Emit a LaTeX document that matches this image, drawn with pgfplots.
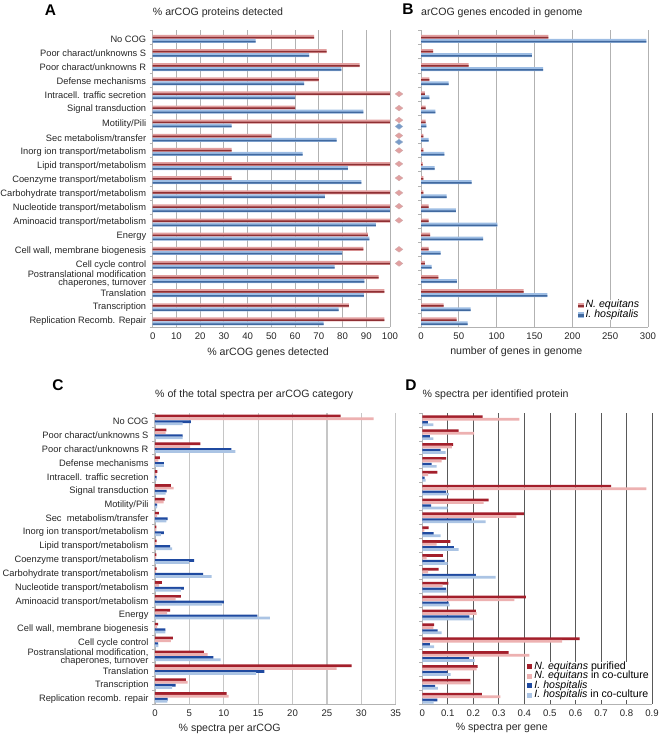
\documentclass[border=0pt]{standalone}
\usepackage{fontspec}
\setmainfont{Liberation Sans}
\usepackage{pgfplots}
\usepackage{pgfplotstable}
\pgfplotsset{compat=1.18}

\definecolor{redtop}{HTML}{E2A0A0}
\definecolor{redbot}{HTML}{8E2F33}
\definecolor{bluetop}{HTML}{9DBDE4}
\definecolor{bluebot}{HTML}{41699F}
\definecolor{darkred}{HTML}{A31F2B}
\definecolor{palered}{HTML}{EDB1B1}
\definecolor{darkblue}{HTML}{1F4AA0}
\definecolor{paleblue}{HTML}{ABC4E4}

% panels A and B: two species
\pgfplotstableread{
cat pctN pctI genN genI
0  68    43.4  168.5 298
1  73.3  65.9  16    146.5
2  87.2  79.5  63    161.5
3  70    63.8  11    36.5
4  100   60    5     11
5  60    88.8  6     19
6  100   33.3  6     7
7  50    77.5  3     10
8  33.3  63.2  3     31
9  100   82.2  2     18
10 33.3  87.9  3     67
11 100   72.6  3     34
12 100   100   10    46
13 100   94    10    101
14 90.7  91.3  12    82
15 88.8  79.8  10    26
16 100   76.7  5     14
17 95.2  89.2  23    47.5
18 97.6  89    135.5 167
19 82.7  78.4  30    65.5
20 97.6  72    47    61.5
}\tabAB

% panel C: % of total spectra
\pgfplotstableread{
cat Npur Nco Ipur Ico
0  27    31.8  5.2  4
1  1.65  1.55  4    4
2  6.6   5.1   11.1 11.7
3  0.7   0.5   1.3  1.3
4  0.35  0.2   0.25 0.25
5  2.3   2.7   1.7  1.55
6  1.4   1.25  0.3  0.3
7  0.55  0.3   1.85 1.65
8  0.2   0.2   1.3  0.85
9  0.25  0.2   2.2  2.5
10 0.2   0.15  5.7  4.95
11 0.25  0.15  7    8.25
12 1     0.6   4.2  3.75
13 3.75  3     10   9.75
14 2.2   1.75  14.9 16.7
15 0.45  0.3   1.5  1.5
16 2.6   2.3   0.45 0.5
17 7.1   7.65  8.5  9.55
18 28.6  26.4  15.9 14.7
19 4.5   4.75  3    2.5
20 10.4  10.7  1.85 1.8
}\tabC

% panel D: % spectra per gene
\pgfplotstableread{
cat Npur Nco Ipur Ico
0  0.236 0.38  0.022 0.043
1  0.142 0.203 0.03  0.043
2  0.121 0.116 0.072 0.091
3  0.093 0.076 0.037 0.056
4  0.059 0.023 0.009 0.013
5  0.74  0.878 0.093 0.104
6  0.26  0.24  0.035 0.099
7  0.398 0.369 0.193 0.248
8  0.025 0.008 0.044 0.072
9  0.11  0.056 0.124 0.142
10 0.081 0.017 0.087 0.099
11 0.064 0.023 0.21  0.287
12 0.102 0.08  0.093 0.095
13 0.406 0.361 0.103 0.107
14 0.21  0.213 0.184 0.2
15 0.046 0.043 0.06  0.076
16 0.616 0.548 0.03  0.046
17 0.338 0.42  0.183 0.205
18 0.217 0.213 0.098 0.111
19 0.188 0.189 0.05  0.061
20 0.233 0.306 0.059 0.044
}\tabD

\pgfplotsset{
  panel/.style={
    scale only axis,
    anchor=south west,
    xbar,
    y dir=reverse,
    ymin=-0.5, ymax=20.5,
    xmin=0,
    ytick={0,...,20},
    minor ytick={-0.5,0.5,...,20.5},
    major tick length=0pt,
    minor tick length=3pt,
    tick align=outside,
    axis x line*=bottom,
    axis y line*=left,
    axis line style={gray!60},
    every tick/.style={gray!60},
    xmajorgrids=true,
    ymajorgrids=false,
    tick label style={font=\fontsize{9.6}{9.6}\selectfont, text=black!85},
    yticklabel style={align=right, font=\fontsize{9.3}{8}\selectfont, xshift=-3pt, yshift=-1.5pt},
    xticklabel style={yshift=-2pt},
    /pgf/number format/assume math mode=true,
    label style={font=\fontsize{10.6}{12}\selectfont, text=black!85},
    title style={font=\fontsize{10.6}{12}\selectfont, text=black!85, anchor=west, inner sep=0pt},
    legend cell align=left,
    legend style={draw=none, fill=white, inner sep=1pt, row sep=1.6pt,
      nodes={inner ysep=0pt, text height=6.5pt, text depth=1.5pt},
      font=\fontsize{10.6}{11}\selectfont},
    clip=false,
  },
  % two-species bars, pale band with a darker band over it
  sN/.style={fill=redtop, draw=none, bar width=4pt, bar shift=0.5pt,
    legend image code/.code={\fill[redtop] (0pt,-2.6pt) rectangle (5.2pt,2.6pt);
      \fill[redbot] (0pt,-2pt) rectangle (5.2pt,.8pt);}},
  sI/.style={fill=bluetop, draw=none, bar width=4pt, bar shift=-3.5pt,
    legend image code/.code={\fill[bluetop] (0pt,-2.6pt) rectangle (5.2pt,2.6pt);
      \fill[bluebot] (0pt,-2pt) rectangle (5.2pt,.8pt);}},
  dN/.style={fill=redbot, draw=none, bar width=1.5pt, bar shift=-0.1pt, forget plot},
  dI/.style={fill=bluebot, draw=none, bar width=1.5pt, bar shift=-4.2pt, forget plot},
  % four-series bars
  qbar/.style={draw=none, bar width=2.7pt,
    legend image code/.code={\fill[##1] (0pt,-2.6pt) rectangle (5.2pt,2.6pt);}},
  qN/.style={qbar, fill=darkred, bar shift=#1},
  qn/.style={qbar, fill=palered, bar shift=#1},
  qI/.style={qbar, fill=darkblue, bar shift=#1},
  qi/.style={qbar, fill=paleblue, bar shift=#1},
}

\begin{document}
\begin{tikzpicture}
\useasboundingbox (0pt,0pt) rectangle (661pt,-737pt);

\node[font=\fontsize{15.5}{15.5}\selectfont\bfseries] at (50.5pt,-10pt) {A};
\node[font=\fontsize{15.5}{15.5}\selectfont\bfseries] at (408pt,-9pt) {B};
\node[font=\fontsize{15.5}{15.5}\selectfont\bfseries] at (58pt,-385pt) {C};
\node[font=\fontsize{15.5}{15.5}\selectfont\bfseries] at (411pt,-385pt) {D};

% A
\begin{axis}[panel, at={(152.7pt,-327pt)}, width=237.3pt, height=296.6pt,
    xmax=100, xtick={0,10,...,100},
    yticklabels={No COG,Poor charact/unknowns S,Poor charact/unknowns R,Defense mechanisms,
  Intracell. traffic secretion,Signal transduction,Motility/Pili,Sec metabolism/transfer,
  Inorg ion transport/metabolism,Lipid transport/metabolism,Coenzyme transport/metabolism,
  Carbohydrate transport/metabolism,Nucleotide transport/metabolism,Aminoacid transport/metabolism,
  Energy,{Cell wall, membrane biogenesis},Cell cycle control,
  {Postranslational modification\\chaperones, turnover\ },Translation,Transcription,Replication Recomb. Repair},
    grid style={gray!60, line width=.8pt},
    title={\% arCOG proteins detected},
    title style={at={(axis description cs:0,1.038)}},
    xlabel={\% arCOG genes detected},
    xlabel style={at={(axis description cs:.486,-.088)}, anchor=center},
  ]
  \addplot+[sN] table[x=pctN,y=cat] {\tabAB};
  \addplot+[dN] table[x=pctN,y=cat] {\tabAB};
  \addplot+[sI] table[x=pctI,y=cat] {\tabAB};
  \addplot+[dI] table[x=pctI,y=cat] {\tabAB};
  % significance markers
  \addplot[only marks, mark=diamond*, mark size=3.8pt, mark options={rotate=90, fill=redtop, draw=redbot!40}, forget plot]
    coordinates {(103.8,4) (103.8,5) (103.8,5.85) (103.8,6.95) (103.8,8) (103.8,8.95) (103.8,9.95)
      (103.8,11) (103.8,11.95) (103.8,12.95) (103.8,15) (103.8,16)};
  \addplot[only marks, mark=diamond*, mark size=3.8pt, mark options={rotate=90, fill=bluetop!60!bluebot, draw=bluebot!50}, forget plot]
    coordinates {(103.8,6.3) (103.8,7.4)};
\end{axis}

% B
\begin{axis}[panel, at={(421pt,-327pt)}, width=227pt, height=296.6pt,
    xmax=300, xtick={0,50,...,300}, yticklabels={},
    grid style={gray!60, line width=.8pt},
    title={arCOG genes encoded in genome},
    title style={at={(axis description cs:0,1.038)}},
    xlabel={number of genes in genome},
    xlabel style={at={(axis description cs:.42,-.083)}, anchor=center},
    legend style={at={(.975,.057)}, anchor=east},
  ]
  \addplot+[sN] table[x=genN,y=cat] {\tabAB};
  \addplot+[dN] table[x=genN,y=cat] {\tabAB};
  \addplot+[sI] table[x=genI,y=cat] {\tabAB};
  \addplot+[dI] table[x=genI,y=cat] {\tabAB};
  \legend{\textit{N. equitans},\textit{I. hospitalis}}
\end{axis}

% C
\begin{axis}[panel, at={(155pt,-704.3pt)}, width=240.7pt, height=291.3pt,
    xmax=35, xtick={0,5,...,35},
    yticklabels={No COG,Poor charact/unknowns S,Poor charact/unknowns R,Defense mechanisms,
  Intracell. traffic secretion,Signal transduction,Motility/Pili,Sec\ \ metabolism/transfer,
  Inorg ion transport/metabolism,Lipid transport/metabolism,Coenzyme transport/metabolism,
  Carbohydrate transport/metabolism,Nucleotide transport/metabolism,Aminoacid transport/metabolism,
  Energy,{Cell wall, membrane biogenesis},Cell cycle control,
  {Postranslational modification,\\chaperones, turnover},Translation,Transcription,Replication recomb. repair},
    grid style={gray!45, line width=1.3pt},
    title={\% of the total spectra per arCOG category},
    title style={at={(axis description cs:0,1.041)}},
    xlabel={\% spectra per arCOG},
    xlabel style={at={(axis description cs:.31,-.086)}, anchor=center},
  ]
  \addplot+[qN=3.9pt] table[x=Npur,y=cat] {\tabC};
  \addplot+[qn=1.2pt] table[x=Nco,y=cat] {\tabC};
  \addplot+[qI=-1.8pt] table[x=Ipur,y=cat] {\tabC};
  \addplot+[qi=-3.9pt] table[x=Ico,y=cat] {\tabC};
\end{axis}

% D
\begin{axis}[panel, at={(422.3pt,-704.3pt)}, width=229.7pt, height=291.3pt,
    xmax=0.9, xtick={0,0.1,...,0.9}, yticklabels={},
    xticklabel style={/pgf/number format/fixed},
    grid style={black!65, line width=.8pt},
    title={\% spectra per identified protein},
    title style={at={(axis description cs:0,1.041)}},
    xlabel={\% spectra per gene},
    xlabel style={at={(axis description cs:.346,-.082)}, anchor=center},
    legend style={at={(1,.08)}, anchor=east},
  ]
  \addplot+[qN=3.2pt] table[x=Npur,y=cat] {\tabD};
  \addplot+[qn=0.6pt] table[x=Nco,y=cat] {\tabD};
  \addplot+[qI=-2.6pt] table[x=Ipur,y=cat] {\tabD};
  \addplot+[qi=-4.8pt] table[x=Ico,y=cat] {\tabD};
  \legend{\textit{N. equitans} purified,\textit{N. equitans} in co-culture,
    \textit{I. hospitalis},\textit{I. hospitalis} in co-culture}
\end{axis}
\end{tikzpicture}
\end{document}
